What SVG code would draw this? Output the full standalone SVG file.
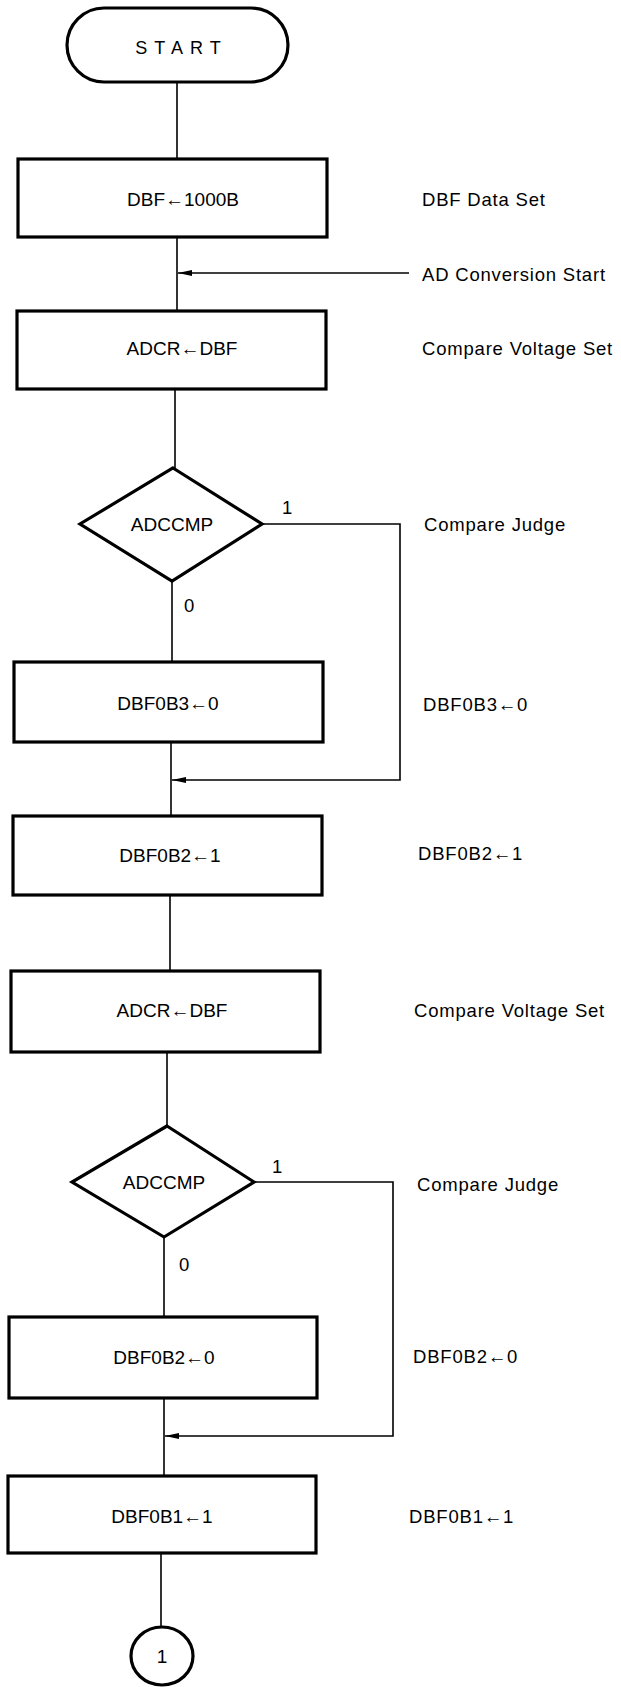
<svg xmlns="http://www.w3.org/2000/svg" width="621" height="1687" viewBox="0 0 621 1687">
<style>
.box{fill:#fff;stroke:#000;stroke-width:3.2}
.ln{fill:none;stroke:#000;stroke-width:1.6}
.t{font-family:"Liberation Sans",Arial,sans-serif;font-size:19px;fill:#000;text-anchor:middle;dominant-baseline:central}
.l{font-family:"Liberation Sans",Arial,sans-serif;font-size:18.5px;fill:#000;letter-spacing:0.8px;dominant-baseline:central}
</style>
<defs>
<marker id="ah" markerWidth="14" markerHeight="8" refX="14" refY="4" orient="auto" markerUnits="userSpaceOnUse">
<path d="M0,1 L14,4 L0,7 Z" fill="#000"/>
</marker>
</defs>
<rect width="621" height="1687" fill="#fff"/>
<g id="connectors">
<path class="ln" d="M177,82 V159"/>
<path class="ln" d="M177,237 V311"/>
<path class="ln" d="M409,273 H178" marker-end="url(#ah)"/>
<path class="ln" d="M175,389 V468"/>
<path class="ln" d="M172,581 V662"/>
<path class="ln" d="M262,524 H400 V780 H172" marker-end="url(#ah)"/>
<path class="ln" d="M171,742 V816"/>
<path class="ln" d="M170,895 V971"/>
<path class="ln" d="M167,1052 V1126"/>
<path class="ln" d="M164,1237 V1317"/>
<path class="ln" d="M254,1182 H393 V1436 H165" marker-end="url(#ah)"/>
<path class="ln" d="M164,1398 V1476"/>
<path class="ln" d="M161,1553 V1627"/>
<text class="l" x="282" y="507">1</text>
<text class="l" x="184" y="605">0</text>
<text class="l" x="272" y="1166">1</text>
<text class="l" x="179" y="1264">0</text>
</g>
<g id="start">
<rect class="box" x="67" y="8" width="221" height="74" rx="37" ry="37"/>
<text class="t" x="178" y="48" style="letter-spacing:7px;font-size:18px" dx="3.5">START</text>
</g>
<g id="n1">
<rect class="box" x="18" y="159" width="309" height="78"/>
<text class="t" x="183" y="199">DBF←1000B</text>
<text class="l" x="422" y="199">DBF Data Set</text>
</g>
<g id="adstart">
<text class="l" x="422" y="274">AD Conversion Start</text>
</g>
<g id="n2">
<rect class="box" x="17" y="311" width="309" height="78"/>
<text class="t" x="182" y="348">ADCR←DBF</text>
<text class="l" x="422" y="348">Compare Voltage Set</text>
</g>
<g id="d1">
<path class="box" d="M173,468 L262,524 L172,581 L80,524 Z"/>
<text class="t" x="172" y="524">ADCCMP</text>
<text class="l" x="424" y="524">Compare Judge</text>
</g>
<g id="n3">
<rect class="box" x="14" y="662" width="309" height="80"/>
<text class="t" x="168" y="703">DBF0B3←0</text>
<text class="l" x="423" y="704">DBF0B3←0</text>
</g>
<g id="n4">
<rect class="box" x="13" y="816" width="309" height="79"/>
<text class="t" x="170" y="855">DBF0B2←1</text>
<text class="l" x="418" y="853">DBF0B2←1</text>
</g>
<g id="n5">
<rect class="box" x="11" y="971" width="309" height="81"/>
<text class="t" x="172" y="1010">ADCR←DBF</text>
<text class="l" x="414" y="1010">Compare Voltage Set</text>
</g>
<g id="d2">
<path class="box" d="M167,1126 L254,1182 L164,1237 L72,1182 Z"/>
<text class="t" x="164" y="1182">ADCCMP</text>
<text class="l" x="417" y="1184">Compare Judge</text>
</g>
<g id="n6">
<rect class="box" x="9" y="1317" width="308" height="81"/>
<text class="t" x="164" y="1357">DBF0B2←0</text>
<text class="l" x="413" y="1356">DBF0B2←0</text>
</g>
<g id="n7">
<rect class="box" x="8" y="1476" width="308" height="77"/>
<text class="t" x="162" y="1516">DBF0B1←1</text>
<text class="l" x="409" y="1516">DBF0B1←1</text>
</g>
<g id="c1">
<ellipse class="box" cx="162" cy="1656" rx="31" ry="29"/>
<text class="t" x="162" y="1656">1</text>
</g>
</svg>
